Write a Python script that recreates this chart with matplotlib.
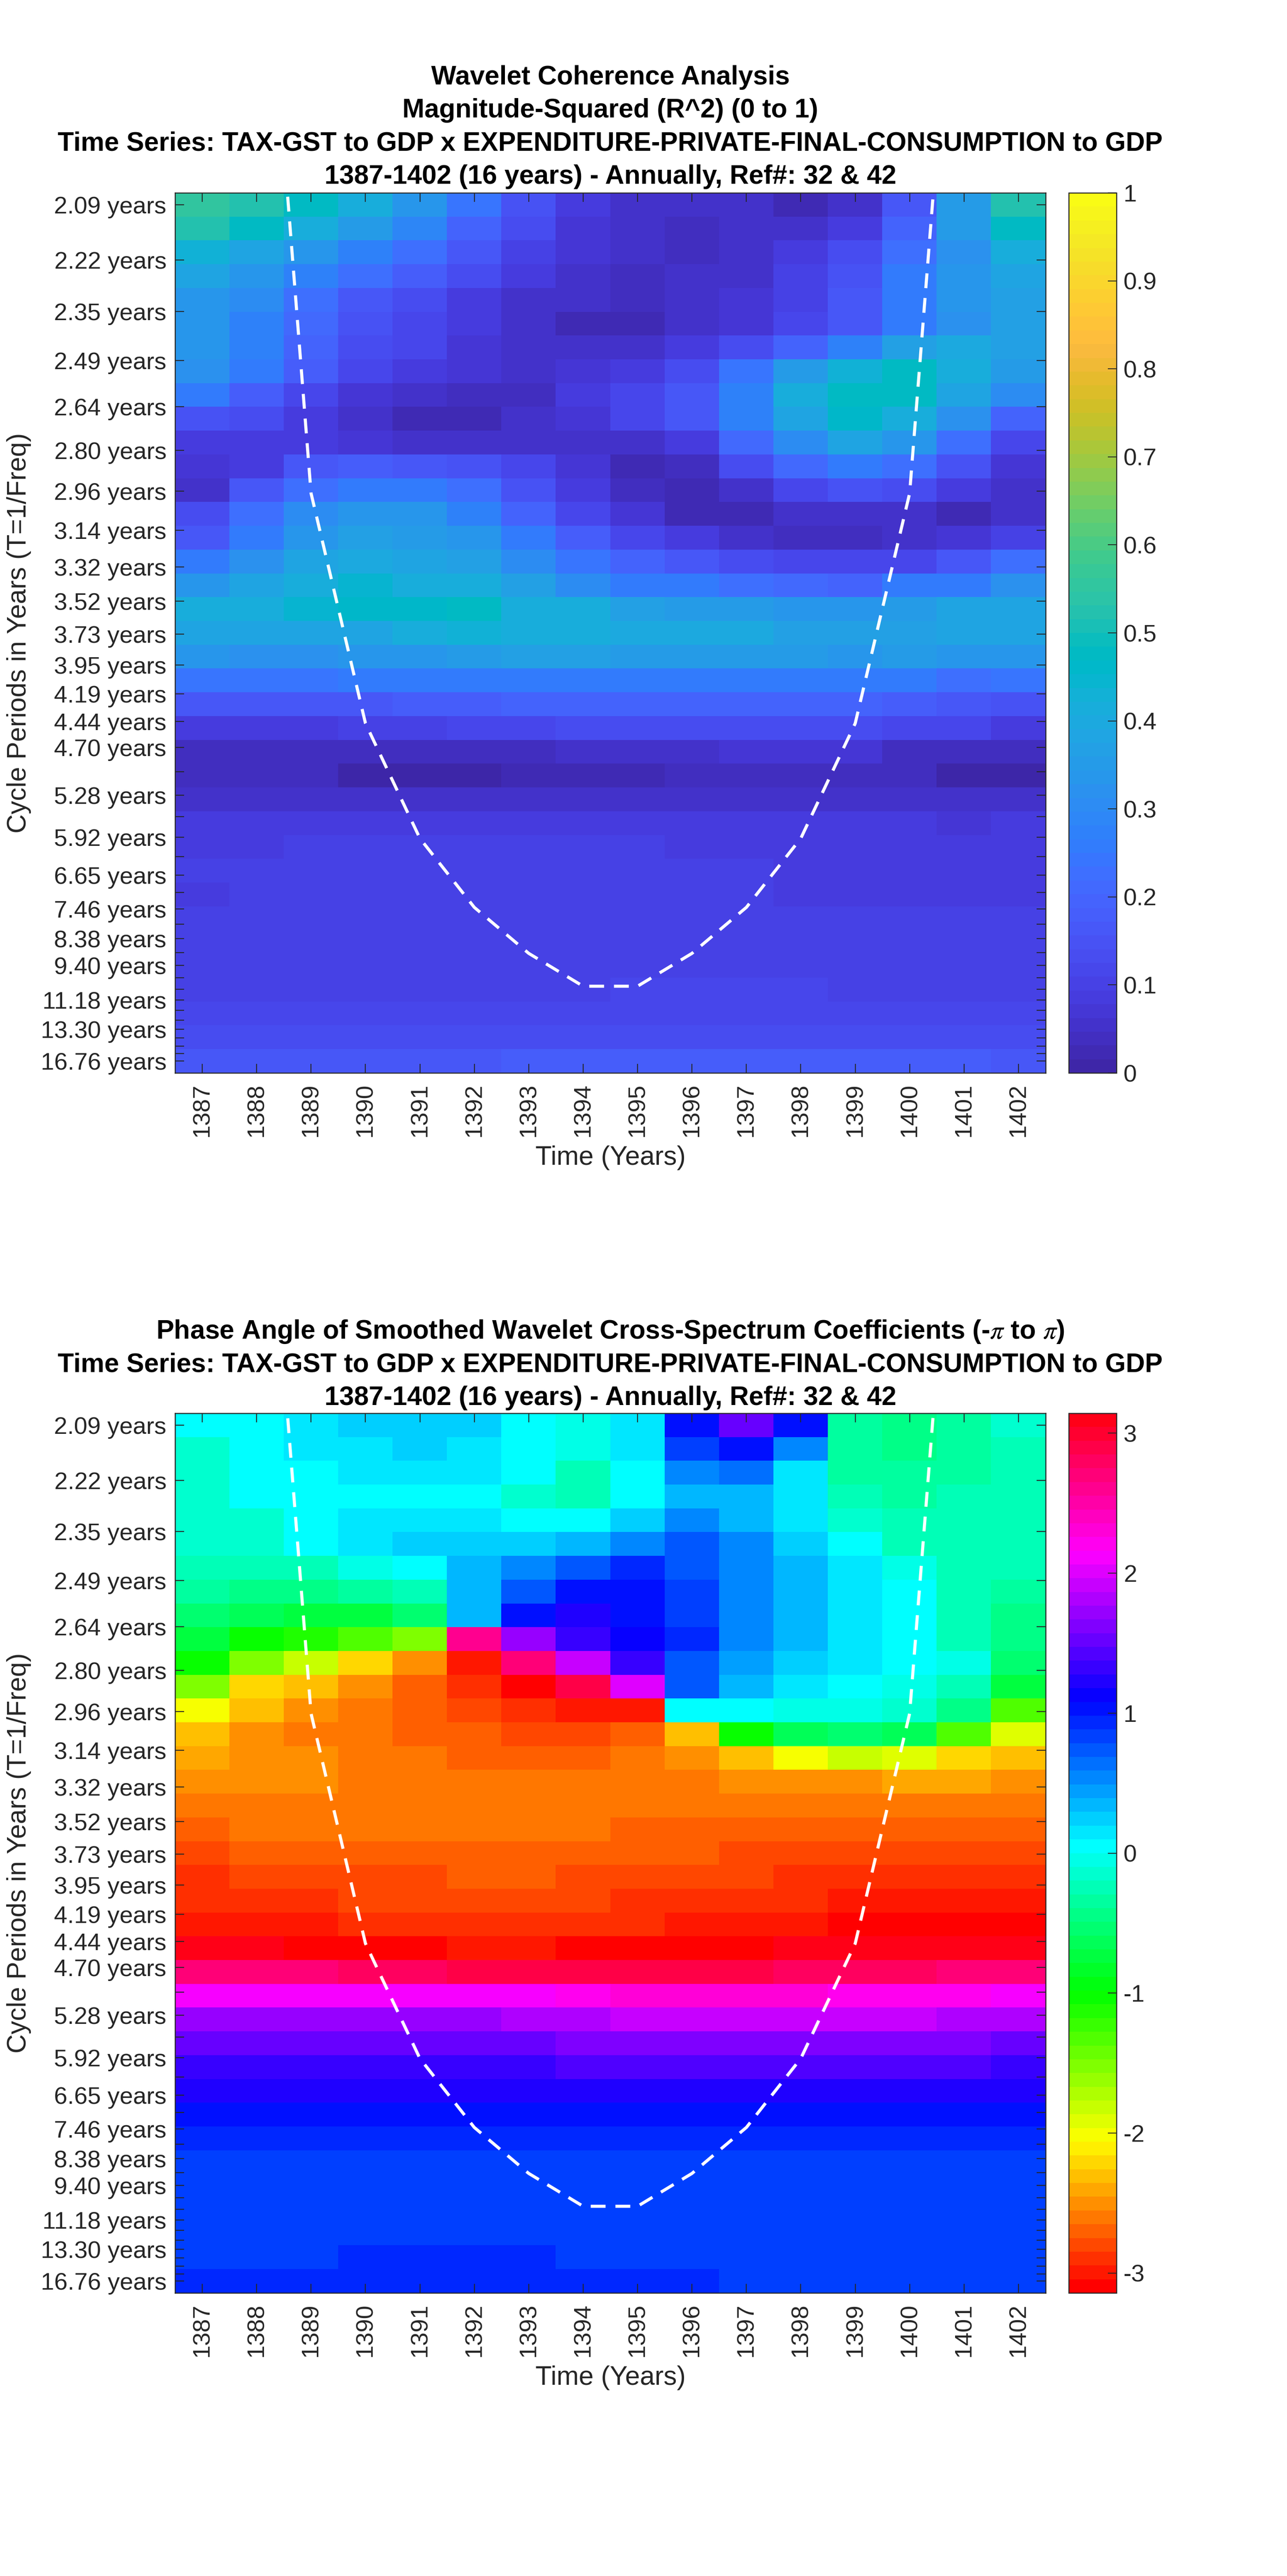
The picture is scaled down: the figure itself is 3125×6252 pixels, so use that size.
import numpy as np
import matplotlib
matplotlib.use("Agg")
import matplotlib.pyplot as plt
from matplotlib.colors import ListedColormap, hsv_to_rgb

plt.rcParams['font.family'] = ['Liberation Sans', 'DejaVu Sans']
plt.rcParams['mathtext.fontset'] = 'stix'

W, H = 3125, 6252
DPI = 300
DARK = '#262626'

years = list(range(1387, 1403))

periods = [2.094, 2.219, 2.350, 2.490, 2.638, 2.795, 2.961, 3.137, 3.324, 3.521, 3.731, 3.953, 4.188,
           4.437, 4.701, 4.980, 5.277, 5.590, 5.923, 6.275, 6.648, 7.043, 7.462, 7.906, 8.376, 8.874,
           9.402, 9.961, 10.553, 11.181, 11.846, 12.550, 13.296, 14.087, 14.925, 15.812, 16.752]
period_labels = ['2.09', '2.22', '2.35', '2.49', '2.64', '2.80', '2.96', '3.14', '3.32', '3.52', '3.73', '3.95',
                 '4.19', '4.44', '4.70', '', '5.28', '', '5.92', '', '6.65', '', '7.46', '', '8.38', '',
                 '9.40', '', '', '11.18', '', '', '13.30', '', '', '', '16.76']

# cone of influence
coi_years = [1388, 1389, 1390, 1391, 1392, 1393, 1394, 1395, 1396, 1397, 1398, 1399, 1400, 1401]
coi_periods = [1.485, 2.97, 4.455, 5.94, 7.425, 8.91, 10.395, 10.395, 8.91, 7.425, 5.94, 4.455, 2.97, 1.485]

coherence = [
    [.55, .53, .48, .42, .33, .24, .15, .09, .06, .05, .05, .03, .05, .16, .35, .53],
    [.52, .47, .41, .35, .29, .19, .13, .07, .05, .04, .05, .05, .09, .20, .35, .47],
    [.43, .39, .33, .28, .23, .17, .10, .07, .06, .04, .05, .08, .13, .23, .32, .42],
    [.38, .34, .28, .22, .18, .13, .08, .05, .04, .05, .05, .10, .15, .25, .33, .39],
    [.34, .30, .23, .17, .13, .09, .06, .05, .04, .05, .07, .10, .16, .26, .33, .37],
    [.33, .28, .21, .15, .12, .08, .05, .03, .03, .06, .07, .11, .17, .25, .32, .36],
    [.33, .27, .20, .14, .11, .07, .05, .05, .06, .09, .14, .20, .28, .37, .40, .36],
    [.32, .25, .18, .12, .09, .07, .05, .07, .09, .14, .24, .35, .43, .47, .41, .35],
    [.26, .18, .12, .07, .05, .04, .04, .08, .11, .16, .27, .41, .48, .47, .39, .30],
    [.15, .13, .09, .05, .03, .03, .05, .07, .11, .17, .27, .39, .46, .42, .32, .20],
    [.09, .09, .08, .07, .06, .05, .05, .05, .05, .08, .21, .31, .38, .33, .23, .11],
    [.07, .09, .16, .18, .16, .15, .11, .07, .03, .04, .13, .21, .25, .23, .15, .07],
    [.06, .16, .23, .26, .25, .22, .15, .09, .04, .03, .06, .11, .15, .13, .08, .05],
    [.14, .22, .31, .33, .33, .27, .20, .12, .07, .03, .03, .05, .05, .05, .03, .06],
    [.16, .26, .33, .36, .35, .33, .26, .18, .12, .08, .05, .04, .04, .05, .07, .10],
    [.26, .32, .39, .40, .39, .36, .30, .24, .20, .16, .13, .12, .12, .12, .16, .22],
    [.34, .39, .42, .45, .42, .41, .36, .31, .26, .25, .22, .21, .20, .25, .26, .32],
    [.42, .42, .45, .46, .46, .47, .42, .42, .37, .35, .35, .34, .33, .35, .38, .38],
    [.39, .39, .39, .39, .42, .43, .41, .41, .40, .40, .40, .37, .36, .36, .38, .38],
    [.33, .32, .32, .34, .34, .35, .36, .36, .35, .35, .35, .35, .34, .35, .34, .33],
    [.24, .24, .24, .26, .26, .26, .25, .25, .25, .26, .25, .25, .25, .26, .23, .24],
    [.17, .17, .17, .17, .18, .18, .19, .19, .19, .19, .19, .19, .19, .18, .17, .15],
    [.09, .09, .09, .10, .10, .11, .11, .13, .13, .14, .14, .14, .14, .12, .12, .09],
    [.04, .04, .04, .04, .04, .04, .04, .055, .055, .055, .07, .07, .07, .04, .04, .04],
    [.04, .04, .04, .01, .01, .01, .02, .02, .02, .04, .04, .04, .04, .04, .01, .01],
    [.055, .055, .055, .055, .055, .055, .055, .055, .055, .055, .055, .055, .055, .055, .055, .055],
    [.086, .086, .086, .086, .086, .086, .086, .086, .086, .086, .086, .086, .086, .086, .07, .086],
    [.086, .086, .102, .102, .102, .102, .102, .102, .102, .086, .086, .086, .086, .086, .086, .086],
    [.102, .102, .102, .102, .102, .102, .102, .102, .102, .102, .102, .086, .086, .086, .086, .086],
    [.086, .102, .102, .102, .102, .102, .102, .102, .102, .102, .102, .086, .086, .086, .086, .086],
    [.102, .102, .102, .102, .102, .102, .102, .102, .102, .102, .102, .102, .102, .102, .102, .102],
    [.102, .102, .102, .102, .102, .102, .102, .102, .102, .102, .102, .102, .102, .102, .102, .102],
    [.102, .102, .102, .102, .102, .102, .102, .102, .102, .102, .102, .102, .102, .102, .102, .102],
    [.102, .102, .102, .102, .102, .102, .102, .102, .117, .117, .117, .117, .102, .102, .102, .102],
    [.117, .117, .117, .117, .117, .117, .117, .117, .117, .117, .117, .117, .117, .117, .117, .117],
    [.133, .133, .133, .133, .133, .133, .133, .133, .133, .133, .133, .133, .133, .133, .133, .133],
    [.164, .164, .164, .164, .164, .164, .18, .18, .18, .18, .18, .18, .18, .18, .18, .164],
]

phase = [
    [.0, .0, .12, .22, .22, .22, .0, -.05, .12, 1.05, 1.55, 1.05, -.3, -.4, -.3, -.1],
    [-.1, .0, .12, .12, .22, .1, .0, -.05, .15, .8, 1.0, .5, -.3, -.4, -.3, -.25],
    [-.12, .0, .0, .1, .1, .1, .0, -.25, .0, .5, .6, .1, -.3, -.38, -.3, -.25],
    [-.12, .0, .0, .08, .08, .08, -.12, -.25, .0, .35, .35, .1, -.28, -.3, -.28, -.25],
    [-.12, -.12, .0, .1, .1, .1, .0, .0, .2, .5, .35, .1, -.1, -.28, -.28, -.25],
    [-.12, -.12, .0, .1, .2, .2, .2, .32, .55, .75, .55, .2, .0, -.25, -.25, -.25],
    [-.25, -.25, -.25, -.05, .0, .3, .5, .75, .9, .75, .55, .35, .15, -.05, -.25, -.25],
    [-.35, -.45, -.45, -.35, -.25, .3, .7, 1.0, 1.05, .8, .55, .35, .15, .0, -.25, -.35],
    [-.55, -.6, -.75, -.75, -.5, .38, 1.05, 1.2, 1.05, .85, .55, .35, .15, .0, -.25, -.4],
    [-.75, -1.03, -1.15, -1.33, -1.52, 2.6, 1.75, 1.3, 1.15, .95, .55, .35, .15, .0, -.25, -.4],
    [-1.03, -1.52, -1.82, -2.21, -2.5, -3.0, 2.7, 1.95, 1.32, .77, .47, .23, .12, .0, -.05, -.53],
    [-1.52, -2.21, -2.31, -2.5, -2.7, -2.9, -3.13, 2.9, 2.0, .77, .35, .12, .0, -.05, -.28, -.75],
    [-2.02, -2.31, -2.5, -2.6, -2.7, -2.8, -2.9, -3.0, -3.0, .0, .0, -.05, -.05, -.15, -.4, -1.33],
    [-2.31, -2.5, -2.6, -2.6, -2.7, -2.7, -2.8, -2.8, -2.7, -2.31, -1.03, -.65, -.55, -.65, -1.33, -1.92],
    [-2.41, -2.5, -2.5, -2.6, -2.6, -2.7, -2.7, -2.7, -2.6, -2.5, -2.31, -2.02, -1.82, -1.92, -2.21, -2.31],
    [-2.5, -2.5, -2.5, -2.6, -2.6, -2.6, -2.6, -2.6, -2.6, -2.6, -2.5, -2.5, -2.5, -2.41, -2.41, -2.5],
    [-2.6, -2.6, -2.6, -2.6, -2.6, -2.6, -2.6, -2.6, -2.6, -2.6, -2.6, -2.6, -2.6, -2.6, -2.6, -2.6],
    [-2.7, -2.6, -2.6, -2.6, -2.6, -2.6, -2.6, -2.6, -2.7, -2.7, -2.7, -2.7, -2.7, -2.7, -2.7, -2.7],
    [-2.8, -2.7, -2.7, -2.7, -2.7, -2.7, -2.7, -2.7, -2.7, -2.7, -2.8, -2.8, -2.8, -2.8, -2.8, -2.8],
    [-2.9, -2.8, -2.8, -2.8, -2.8, -2.7, -2.7, -2.8, -2.8, -2.8, -2.8, -2.9, -2.9, -2.9, -2.9, -2.9],
    [-2.9, -2.9, -2.9, -2.8, -2.8, -2.8, -2.8, -2.8, -2.9, -2.9, -2.9, -2.9, -3.0, -3.0, -3.0, -3.0],
    [-3.0, -3.0, -3.0, -2.9, -2.9, -2.9, -2.9, -2.9, -2.9, -3.0, -3.0, -3.0, -3.13, -3.13, -3.13, -3.13],
    [3.09, 3.09, -3.13, -3.13, -3.13, -3.0, -3.0, -3.13, -3.13, -3.13, -3.13, 3.09, 3.09, 3.09, 3.09, 3.09],
    [2.7, 2.7, 2.7, 2.8, 2.8, 2.9, 2.9, 2.9, 2.9, 2.9, 2.9, 2.8, 2.8, 2.8, 2.7, 2.7],
    [2.11, 2.11, 2.11, 2.11, 2.11, 2.11, 2.11, 2.21, 2.31, 2.31, 2.31, 2.31, 2.21, 2.21, 2.21, 2.11],
    [1.72, 1.72, 1.72, 1.72, 1.72, 1.72, 1.82, 1.82, 1.92, 1.92, 1.92, 1.92, 1.92, 1.92, 1.82, 1.82],
    [1.52, 1.52, 1.52, 1.52, 1.52, 1.52, 1.52, 1.62, 1.62, 1.62, 1.62, 1.62, 1.62, 1.62, 1.62, 1.52],
    [1.33, 1.33, 1.33, 1.33, 1.33, 1.33, 1.33, 1.42, 1.42, 1.42, 1.42, 1.42, 1.42, 1.42, 1.42, 1.33],
    [1.23, 1.23, 1.23, 1.23, 1.23, 1.23, 1.23, 1.23, 1.23, 1.23, 1.23, 1.23, 1.23, 1.23, 1.23, 1.23],
    [1.03, 1.03, 1.03, 1.03, 1.03, 1.03, 1.03, 1.03, 1.03, 1.03, 1.03, 1.03, 1.03, 1.03, 1.03, 1.03],
    [.93, .93, .93, .93, .93, .93, .93, .93, .93, .93, .93, .93, .93, .93, .93, .93],
    [.835, .835, .835, .835, .835, .835, .835, .835, .835, .835, .835, .835, .835, .835, .835, .835],
    [.835, .835, .835, .835, .835, .835, .835, .835, .835, .835, .835, .835, .835, .835, .835, .835],
    [.835, .835, .835, .835, .835, .835, .835, .835, .835, .835, .835, .835, .835, .835, .835, .835],
    [.835, .835, .835, .835, .835, .835, .835, .835, .835, .835, .835, .835, .835, .835, .835, .835],
    [.835, .835, .835, .93, .93, .93, .93, .835, .835, .835, .835, .835, .835, .835, .835, .835],
    [.93, .93, .93, .93, .93, .93, .93, .93, .93, .93, .835, .835, .835, .835, .835, .835],
]

parula_rgb = [
    [.2422, .1504, .6603], [.2504, .1650, .7076], [.2578, .1818, .7511], [.2647, .1978, .7952],
    [.2706, .2147, .8364], [.2751, .2342, .8710], [.2783, .2559, .8991], [.2803, .2782, .9221],
    [.2813, .3006, .9414], [.2810, .3228, .9579], [.2795, .3447, .9717], [.2760, .3667, .9829],
    [.2699, .3892, .9906], [.2602, .4123, .9952], [.2440, .4358, .9988], [.2206, .4603, .9973],
    [.1963, .4847, .9892], [.1834, .5074, .9798], [.1786, .5289, .9682], [.1764, .5499, .9520],
    [.1687, .5703, .9359], [.1540, .5902, .9218], [.1460, .6091, .9079], [.1380, .6276, .8973],
    [.1248, .6459, .8883], [.1113, .6635, .8763], [.0952, .6798, .8598], [.0689, .6948, .8394],
    [.0297, .7082, .8163], [.0036, .7203, .7917], [.0067, .7312, .7660], [.0433, .7411, .7394],
    [.0964, .7500, .7120], [.1408, .7584, .6842], [.1717, .7670, .6554], [.1938, .7758, .6251],
    [.2161, .7843, .5923], [.2470, .7918, .5567], [.2906, .7973, .5188], [.3406, .8008, .4789],
    [.3909, .8029, .4354], [.4456, .8024, .3909], [.5044, .7993, .3480], [.5616, .7942, .3045],
    [.6174, .7876, .2612], [.6720, .7793, .2227], [.7242, .7698, .1910], [.7738, .7598, .1646],
    [.8203, .7498, .1535], [.8634, .7406, .1596], [.9035, .7330, .1774], [.9393, .7288, .2100],
    [.9728, .7298, .2394], [.9956, .7434, .2371], [.9970, .7659, .2199], [.9952, .7893, .2028],
    [.9892, .8136, .1885], [.9786, .8386, .1766], [.9676, .8639, .1643], [.9610, .8890, .1537],
    [.9597, .9135, .1423], [.9628, .9373, .1265], [.9691, .9606, .1064], [.9769, .9839, .0805],
]
parula = ListedColormap(parula_rgb)
hsv64 = ListedColormap(hsv_to_rgb(np.column_stack([np.arange(64) / 64, np.ones(64), np.ones(64)])))


def px_axes(fig, left, top, right, bottom):
    return fig.add_axes([left / W, 1 - bottom / H, (right - left) / W, (bottom - top) / H])


def draw_panel(fig, data, cmap, vmin, vmax, top, bottom, cticks, clabels):
    ax = px_axes(fig, 425, top, 2539, bottom)
    freqs = 1 / np.array(periods)
    step = (freqs[0] - freqs[-1]) / (len(freqs) - 1)
    im = ax.imshow(np.array(data), cmap=cmap, vmin=vmin, vmax=vmax, aspect='auto', origin='upper',
                   interpolation='nearest',
                   extent=(years[0] - .5, years[-1] + .5, freqs[-1] - step / 2, freqs[0] + step / 2))
    coi_f = 1 / np.array(coi_periods)
    ax.plot(coi_years, coi_f, color='white', lw=1.8, dashes=(4.8, 3.2))
    ax.set_ylim(freqs[-1] - step / 2, freqs[0] + step / 2)
    ax.set_xlim(years[0] - .5, years[-1] + .5)
    ax.set_yticks(freqs)
    ax.set_yticklabels([l + ' years' if l else '' for l in period_labels], fontsize=14, color=DARK)
    ax.set_xticks(years)
    ax.set_xticklabels(years, rotation=90, fontsize=14, color=DARK)
    ax.tick_params(direction='in', length=5.2, width=.55, color=DARK, top=True, right=True, pad=5)
    ax.tick_params(axis='x', pad=6)
    for s in ax.spines.values():
        s.set_linewidth(.6)
        s.set_color(DARK)
    ax.set_xlabel('Time (Years)', fontsize=15.5, color=DARK, labelpad=5)
    ax.set_ylabel('Cycle Periods in Years (T=1/Freq)', fontsize=15.5, color=DARK)
    ax.yaxis.set_label_coords(-.165, .5)

    cax = px_axes(fig, 2595, top, 2711, bottom)
    cb = fig.colorbar(im, cax=cax)
    cb.set_ticks(cticks)
    cb.set_ticklabels(clabels, fontsize=14, color=DARK)
    cb.ax.tick_params(direction='in', length=5, width=.5, color=DARK, pad=4)
    cb.outline.set_linewidth(.6)
    cb.outline.set_edgecolor(DARK)
    return ax


fig = plt.figure(figsize=(W / DPI, H / DPI), dpi=DPI, facecolor='white')

draw_panel(fig, coherence, parula, 0, 1, 468, 2604,
           [i / 10 for i in range(11)], ['0', '0.1', '0.2', '0.3', '0.4', '0.5', '0.6', '0.7', '0.8', '0.9', '1'])
draw_panel(fig, phase, hsv64, -np.pi, np.pi, 3430, 5565,
           [-3, -2, -1, 0, 1, 2, 3], ['-3', '-2', '-1', '0', '1', '2', '3'])

series = 'Time Series: TAX-GST to GDP x EXPENDITURE-PRIVATE-FINAL-CONSUMPTION to GDP'
span = '1387-1402 (16 years) - Annually, Ref#: 32 & 42'
top_lines = [('Wavelet Coherence Analysis', 188), ('Magnitude-Squared (R^2) (0 to 1)', 268), (series, 349), (span, 429)]
bottom_lines = [(r'Phase Angle of Smoothed Wavelet Cross-Spectrum Coefficients (-$\pi$ to $\pi$)', 3232),
                (series, 3313), (span, 3393)]
for txt, y in top_lines + bottom_lines:
    fig.text(1482 / W, 1 - y / H, txt, ha='center', va='center', fontsize=15.45, fontweight='bold', color='black')

fig.savefig('out.png', dpi=DPI)
